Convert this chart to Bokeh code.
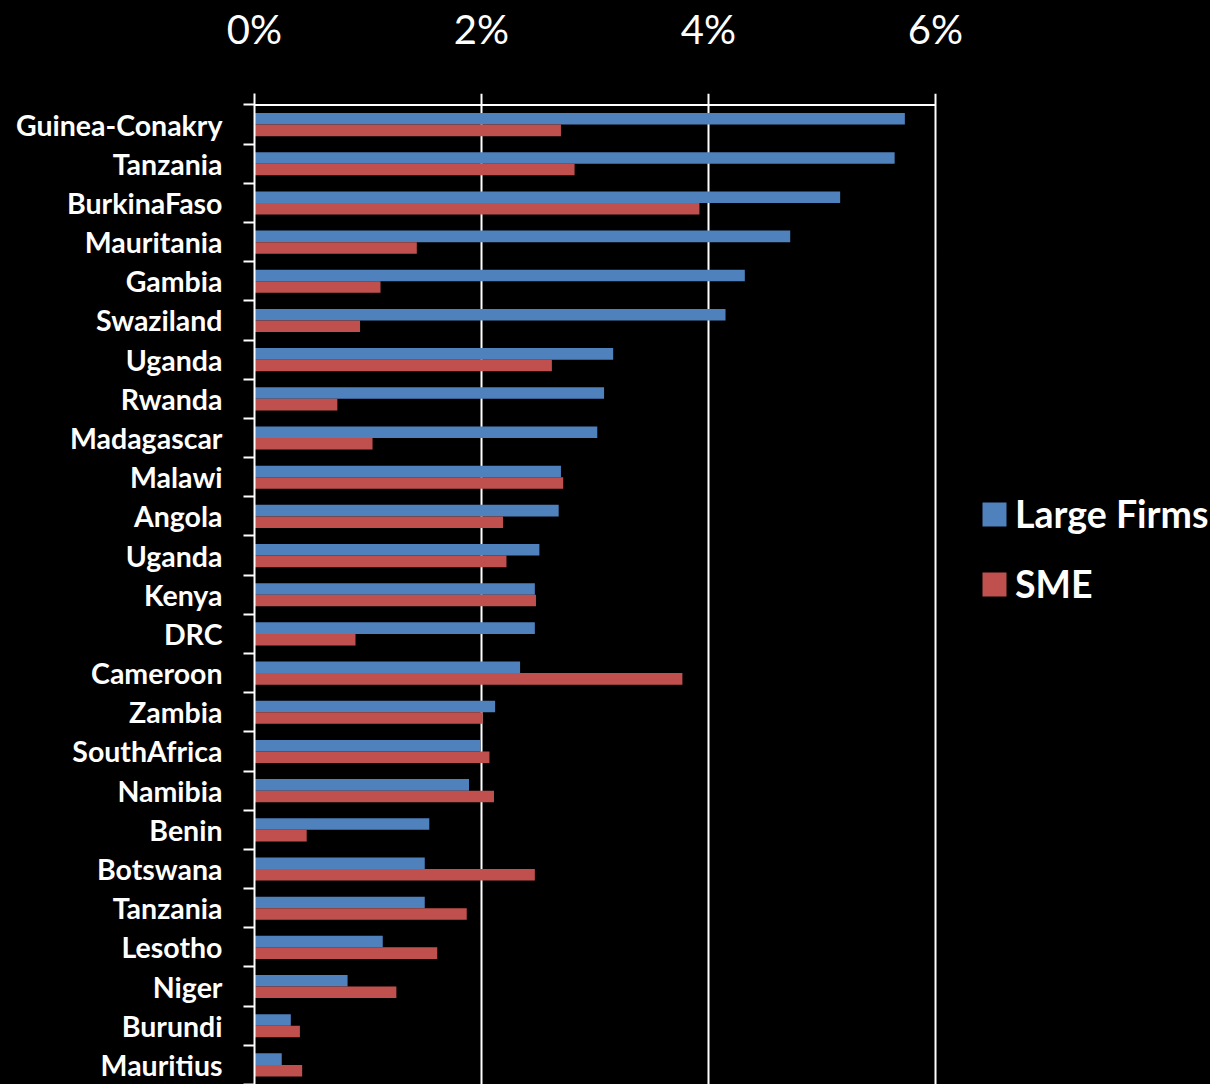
from bokeh.plotting import figure
from bokeh.models import (Range1d, FixedTicker, PrintfTickFormatter, Arrow, Legend,
                          LegendItem, ColumnDataSource)
from bokeh.transform import dodge
from bokeh.embed import file_html
from bokeh.resources import INLINE

countries = ["Guinea-Conakry", "Tanzania", "BurkinaFaso", "Mauritania", "Gambia",
             "Swaziland", "Uganda", "Rwanda", "Madagascar", "Malawi", "Angola",
             "Uganda", "Kenya", "DRC", "Cameroon", "Zambia", "SouthAfrica",
             "Namibia", "Benin", "Botswana", "Tanzania", "Lesotho", "Niger",
             "Burundi", "Mauritius"]
large_firms = [5.73, 5.64, 5.16, 4.72, 4.32, 4.15, 3.16, 3.08, 3.02, 2.70, 2.68,
               2.51, 2.47, 2.47, 2.34, 2.12, 1.99, 1.89, 1.54, 1.50, 1.50, 1.13,
               0.82, 0.32, 0.24]
sme = [2.70, 2.82, 3.92, 1.43, 1.11, 0.93, 2.62, 0.73, 1.04, 2.72, 2.19, 2.22,
       2.48, 0.89, 3.77, 2.01, 2.07, 2.11, 0.46, 2.47, 1.87, 1.61, 1.25, 0.40, 0.42]
x_ticks = [0, 2, 4, 6]

rows = list(range(len(countries)))
src = ColumnDataSource(dict(row=rows, large=large_firms, sme=sme))

BLUE = "#4F81BD"
RED = "#C0504D"
FONT = "Lato"

W, H = 1210, 1084
LEFT, TOP = 254, 93
px_per_pct = 113.5
x_end = (W - LEFT) / px_per_pct

p = figure(width=W, height=H,
           x_range=Range1d(0, x_end), y_range=Range1d(24.5, -0.7935),
           x_axis_location="above",
           output_backend="svg", toolbar_location=None,
           min_border_left=LEFT, min_border_right=0,
           min_border_top=TOP, min_border_bottom=0)

p.background_fill_color = "black"
p.border_fill_color = "black"
p.outline_line_color = None
p.styles = {"background-color": "black"}

bw = 0.295
r1 = p.hbar(y=dodge("row", -bw / 2, range=p.y_range), right="large", left=0,
            height=bw, source=src, fill_color=BLUE, line_color=None)
r2 = p.hbar(y=dodge("row", bw / 2, range=p.y_range), right="sme", left=0,
            height=bw, source=src, fill_color=RED, line_color=None)

# grid
p.ygrid.visible = False
p.xgrid.ticker = FixedTicker(ticks=x_ticks)
p.xgrid.grid_line_color = "white"
p.xgrid.grid_line_width = 2
p.add_layout(Arrow(x_start=x_ticks[0], x_end=x_ticks[-1], y_start=-0.5, y_end=-0.5,
                   end=None, line_color="white", line_width=2))

# top axis
xa = p.xaxis[0]
xa.ticker = FixedTicker(ticks=x_ticks)
xa.formatter = PrintfTickFormatter(format="%d%%")
xa.axis_line_color = None
xa.major_tick_line_color = None
xa.minor_tick_line_color = None
xa.major_tick_out = 0
xa.major_tick_in = 0
xa.minor_tick_out = 0
xa.minor_tick_in = 0
xa.major_label_standoff = 41
xa.major_label_text_font = FONT
xa.major_label_text_font_size = "40px"
xa.major_label_text_color = "white"

# left axis
ya = p.yaxis[0]
ya.ticker = FixedTicker(ticks=rows, minor_ticks=[r - 0.5 for r in rows] + [len(rows) - 0.5])
ya.major_label_overrides = {r: c for r, c in zip(rows, countries)}
ya.axis_line_color = "white"
ya.axis_line_width = 2
ya.major_tick_line_color = None
ya.major_tick_out = 0
ya.major_tick_in = 0
ya.minor_tick_line_color = "white"
ya.minor_tick_line_width = 2
ya.minor_tick_out = 11
ya.minor_tick_in = 0
ya.major_label_standoff = 21
ya.major_label_text_font = FONT
ya.major_label_text_font_style = "bold"
ya.major_label_text_font_size = "28.5px"
ya.major_label_text_color = "white"

legend = Legend(items=[LegendItem(label="Large Firms", renderers=[r1]),
                       LegendItem(label="SME", renderers=[r2])],
                location=(725, 478), orientation="vertical",
                background_fill_alpha=0, border_line_color=None,
                padding=0, margin=0, spacing=25,
                glyph_width=30, glyph_height=30, label_height=43,
                label_standoff=6,
                label_text_font=FONT, label_text_font_style="bold",
                label_text_font_size="37.5px", label_text_color="white")
p.add_layout(legend)

html = file_html(p, INLINE)
html = html.replace("<body>", '<body style="background-color:black;">', 1)
open("out.html", "w").write(html)
